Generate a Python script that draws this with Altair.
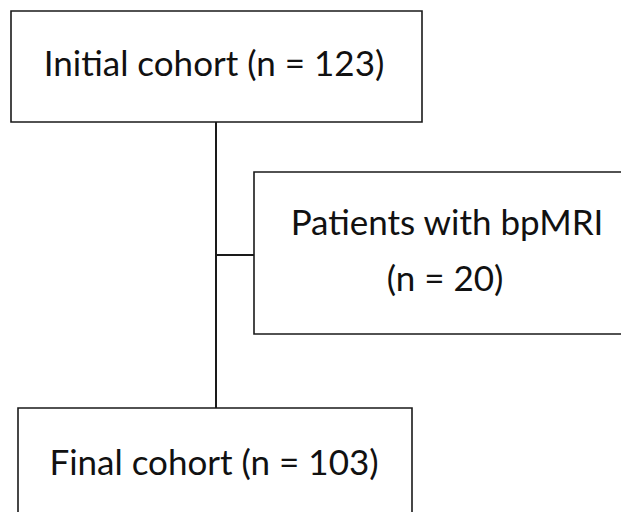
import altair as alt
import pandas as pd

# Flowchart boxes (page pixel coordinates)
box_names = ["initial", "excluded", "final"]
box_left = [11, 254, 18]
box_right = [422, 660, 412]
box_top = [11, 172, 408]
box_bottom = [122, 334, 560]

# Connector lines
line_x = [216, 216]
line_x2 = [216, 254]
line_y = [122, 255]
line_y2 = [408, 255]

# Labels
label_text = ["Initial cohort (n = 123)", "Patients with bpMRI", "(n = 20)", "Final cohort (n = 103)"]
label_x = [214, 447, 445, 214]
label_y = [76, 235, 291, 475]

W, H = 613, 504
xs = alt.Scale(domain=[8, 8 + W], nice=False, zero=False)
ys = alt.Scale(domain=[8 + H, 8], nice=False, zero=False)

boxes = pd.DataFrame({"name": box_names, "x": box_left, "x2": box_right,
                      "y": box_top, "y2": box_bottom})
lines = pd.DataFrame({"x": line_x, "x2": line_x2, "y": line_y, "y2": line_y2})
labels = pd.DataFrame({"text": label_text, "x": label_x, "y": label_y})

rects = alt.Chart(boxes).mark_rect(fill="white", stroke="#1a1a1a", strokeWidth=1.6, clip=True).encode(
    x=alt.X("x:Q", scale=xs, axis=None), x2="x2:Q",
    y=alt.Y("y:Q", scale=ys, axis=None), y2="y2:Q")

rules = alt.Chart(lines).mark_rule(color="#1a1a1a", strokeWidth=2, clip=True).encode(
    x=alt.X("x:Q", scale=xs, axis=None), x2="x2:Q",
    y=alt.Y("y:Q", scale=ys, axis=None), y2="y2:Q")

texts = alt.Chart(labels).mark_text(font="Lato", fontSize=35, color="#111111",
                                    align="center", baseline="alphabetic").encode(
    x=alt.X("x:Q", scale=xs, axis=None),
    y=alt.Y("y:Q", scale=ys, axis=None),
    text="text:N")

chart = alt.layer(rules, rects, texts).properties(
    width=W, height=H, padding=0, autosize=alt.AutoSizeParams(type="none")
).configure_view(strokeWidth=0, strokeOpacity=0)

chart.save("out.html", embed_options={"renderer": "svg", "actions": False})
